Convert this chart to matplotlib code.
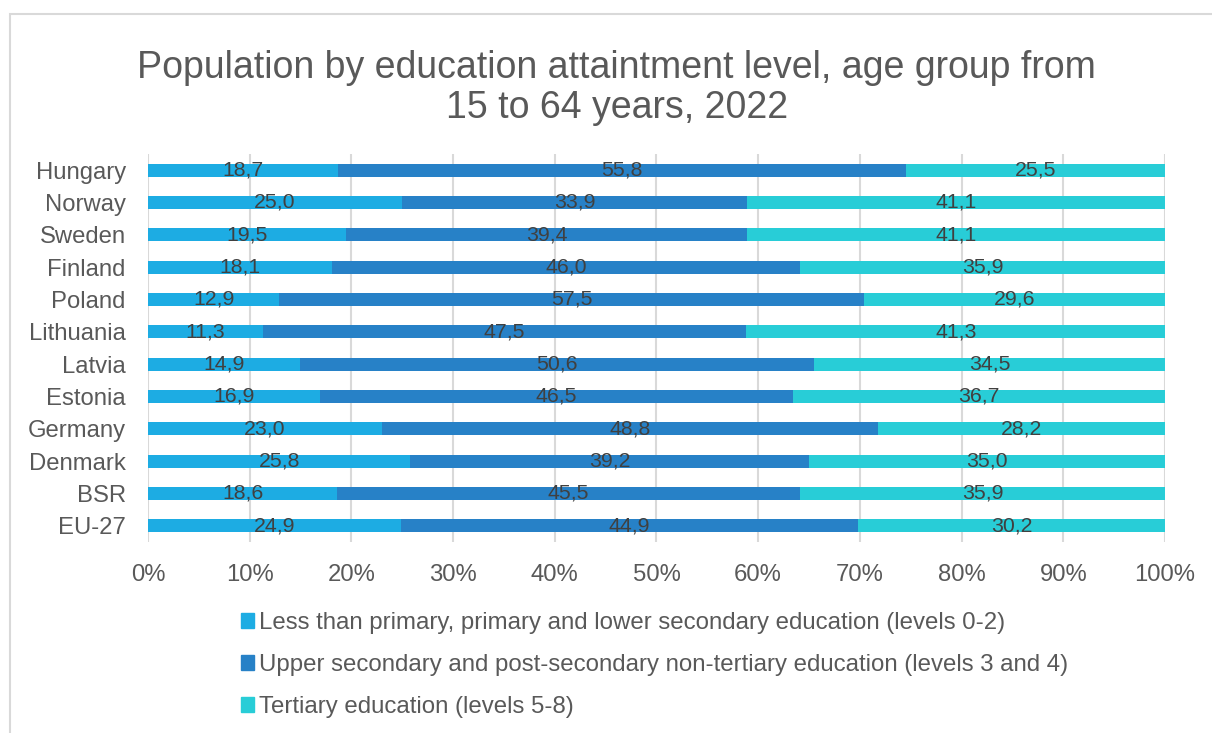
import matplotlib.pyplot as plt
import matplotlib.patches as mpatches
import numpy as np

plt.rcParams['font.family'] = ['Liberation Sans', 'DejaVu Sans']

# data, bottom row first (as drawn)
countries = ['EU-27', 'BSR', 'Denmark', 'Germany', 'Estonia', 'Latvia',
             'Lithuania', 'Poland', 'Finland', 'Sweden', 'Norway', 'Hungary']
low = [24.9, 18.6, 25.8, 23.0, 16.9, 14.9, 11.3, 12.9, 18.1, 19.5, 25.0, 18.7]
upper = [44.9, 45.5, 39.2, 48.8, 46.5, 50.6, 47.5, 57.5, 46.0, 39.4, 33.9, 55.8]
tertiary = [30.2, 35.9, 35.0, 28.2, 36.7, 34.5, 41.3, 29.6, 35.9, 41.1, 41.1, 25.5]

series_names = ['Less than primary, primary and lower secondary education (levels 0-2)',
                'Upper secondary and post-secondary non-tertiary education (levels 3 and 4)',
                'Tertiary education (levels 5-8)']
colors = ['#1DACE3', '#2781C7', '#28CDD7']

fig = plt.figure(figsize=(12.12, 7.33), dpi=100)
ax = fig.add_axes([0.1221, 0.2606, 0.8391, 0.5294])

y = np.arange(len(countries))
left = np.zeros(len(countries))
for vals, name, col in zip([low, upper, tertiary], series_names, colors):
    vals = np.array(vals)
    ax.barh(y, vals, left=left, height=0.4, color=col, label=name, zorder=2)
    for yi, l, v in zip(y, left, vals):
        ax.text(l + v / 2, yi, f'{v:.1f}'.replace('.', ','), ha='center', va='center',
                fontsize=15.3, color='#404040', zorder=3)
    left += vals

ax.set_xlim(0, 100)
ax.set_ylim(-0.5, len(countries) - 0.5)
ax.set_xticks(np.arange(0, 101, 10))
ax.set_xticklabels([f'{t}%' for t in range(0, 101, 10)])
ax.set_yticks(y)
ax.set_yticklabels(countries)
ax.tick_params(length=0, labelsize=17.2, labelcolor='#595959')
ax.tick_params(axis='y', pad=16)
ax.tick_params(axis='x', pad=16)
ax.grid(axis='x', color='#D9D9D9', linewidth=1.5, zorder=0)
for s in ax.spines.values():
    s.set_visible(False)

fig.text(0.509, 0.880, 'Population by education attaintment level, age group from\n15 to 64 years, 2022',
         ha='center', va='center', fontsize=27, color='#595959', linespacing=1.17)

handles = [mpatches.Patch(color=c) for c in colors]
fig.legend(handles, series_names, loc='upper left', bbox_to_anchor=(0.1988, 0.165),
           frameon=False, fontsize=17.3, labelcolor='#595959', handlelength=0.55,
           handleheight=0.55, handletextpad=0.2, labelspacing=0.83,
           borderpad=0, borderaxespad=0)

# chart area border
fig.patches.append(mpatches.Rectangle((10 / 1212, -0.1), 1.2, 1 - 14 / 733 + 0.1,
                                      transform=fig.transFigure, fill=False,
                                      edgecolor='#D9D9D9', linewidth=1.5))

fig.savefig('out.png', dpi=100)
